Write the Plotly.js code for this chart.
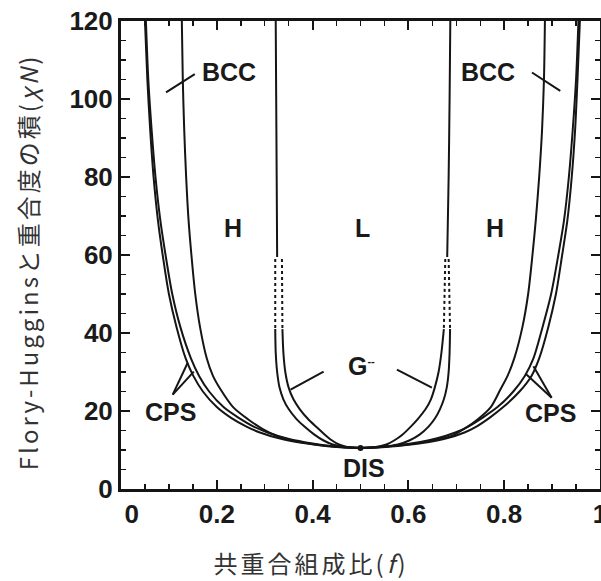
<!DOCTYPE html>
<html>
<head>
<meta charset="utf-8">
<script src="https://cdn.plot.ly/plotly-3.0.1.min.js"></script>
<style>
html,body{margin:0;padding:0;background:#fff;overflow:hidden;}
#chart{width:601px;height:581px;}
</style>
</head>
<body>
<div id="chart"></div>
<script>
// ---- data (f = composition, chiN) ----
// order-disorder line (DIS / CPS), left and right branches
const odtChiN   = [120, 105, 92, 80, 69, 60, 50, 41.5, 33.5, 29, 25, 21, 18.3, 16, 14.5, 13, 12, 11.3, 10.8, 10.5];
const odtLeftF  = [0.050, 0.055, 0.061, 0.068, 0.077, 0.087, 0.100, 0.116, 0.135, 0.151, 0.171, 0.200, 0.229, 0.262, 0.290, 0.330, 0.370, 0.410, 0.450, 0.500];
const odtRightF = [0.958, 0.953, 0.948, 0.941, 0.932, 0.921, 0.908, 0.892, 0.873, 0.857, 0.832, 0.798, 0.770, 0.742, 0.717, 0.680, 0.640, 0.595, 0.553, 0.500];
// CPS / BCC line
const cpsLeftF  = [0.052, 0.057, 0.064, 0.072, 0.082, 0.093, 0.107, 0.124, 0.146, 0.163, 0.184, 0.214, 0.245, 0.277, 0.306, 0.345, 0.383, 0.420, 0.456, 0.500];
const cpsRightF = [0.955, 0.950, 0.943, 0.935, 0.925, 0.913, 0.898, 0.880, 0.861, 0.843, 0.819, 0.786, 0.755, 0.725, 0.698, 0.660, 0.622, 0.582, 0.545, 0.500];
// BCC / H line
const bhChiN    = [120, 105, 92, 80, 69, 60, 50, 41.5, 33.5, 29, 25.5, 21, 17.9, 15.3, 13.6, 12.3, 11.5, 11.0, 10.7, 10.5];
const bhLeftF   = [0.127, 0.129, 0.132, 0.136, 0.141, 0.147, 0.155, 0.165, 0.179, 0.192, 0.208, 0.234, 0.265, 0.297, 0.326, 0.364, 0.402, 0.436, 0.466, 0.500];
const bhRightF  = [0.885, 0.883, 0.879, 0.873, 0.866, 0.859, 0.850, 0.838, 0.821, 0.807, 0.792, 0.772, 0.745, 0.715, 0.690, 0.645, 0.603, 0.567, 0.535, 0.500];
// H / L line (upper, solid)
const hlChiN    = [120, 100, 80, 59.5];
const hlLeftF   = [0.323, 0.324, 0.325, 0.326];
const hlRightF  = [0.6875, 0.686, 0.684, 0.681];
// gyroid window, dotted extrapolation
const gDotChiN  = [59, 41];
const gDotLeftOuterF  = [0.322, 0.322];
const gDotLeftInnerF  = [0.336, 0.337];
const gDotRightOuterF = [0.684, 0.687];
const gDotRightInnerF = [0.677, 0.674];
// gyroid window, solid part
const gChiN        = [41, 35, 30, 26, 23, 20.5, 18, 16, 14, 12.5, 11.4, 10.8, 10.5];
const gLeftOuterF  = [0.322, 0.323, 0.326, 0.331, 0.339, 0.350, 0.366, 0.383, 0.403, 0.422, 0.442, 0.466, 0.500];
const gLeftInnerF  = [0.337, 0.339, 0.343, 0.350, 0.360, 0.373, 0.390, 0.407, 0.425, 0.440, 0.455, 0.472, 0.500];
const gRightOuterF = [0.687, 0.686, 0.684, 0.680, 0.674, 0.666, 0.655, 0.642, 0.624, 0.603, 0.578, 0.545, 0.500];
const gRightInnerF = [0.674, 0.669, 0.663, 0.655, 0.647, 0.636, 0.620, 0.605, 0.588, 0.571, 0.554, 0.532, 0.500];
// critical point
const critF = [0.5], critChiN = [10.5];
// label pointers [f0, chiN0, f1, chiN1]
const pointers = [
  [0.094, 101.7, 0.154, 106.4],
  [0.858, 106.8, 0.917, 102.1],
  [0.354, 25.5, 0.423, 30.1],
  [0.576, 30.6, 0.649, 26.0],
  [0.108, 24.2, 0.139, 32.3],
  [0.108, 24.2, 0.152, 30.1],
  [0.899, 23.4, 0.861, 31.5],
  [0.899, 23.4, 0.846, 29.4]
];
// region labels
const labelText = ['BCC', 'BCC', 'H', 'L', 'H', 'CPS', 'CPS', 'DIS'];
const labelF    = [0.225, 0.767, 0.233, 0.504, 0.781, 0.104, 0.896, 0.507];
const labelChiN = [106.8, 106.8, 67.0, 66.8, 66.8, 19.8, 19.6, 5.5];
const gLabel = {text: 'G<sup><span style="font-size:11px">--</span></sup>', f: 0.470, chiN: 31.5};
// ticks
const xTickVals = [0, 0.2, 0.4, 0.6, 0.8, 1];
const xTickText = ['\u00a0\u00a0\u00a00', '0.2', '0.4', '0.6', '0.8', '1'];
const yTickVals = [0, 20, 40, 60, 80, 100, 120];
const yTickText = ['0', '20', '40', '60', '80', '100', '120'];
const xTitle = '共重合組成比(<i>f</i>)';
const yTitle = 'Flory-Hugginsと重合度の積(<i>χN</i>)';

// ---- build ----
const ink = '#151515';
function curve(x, y, dash) {
  return {x: x, y: y, mode: 'lines', type: 'scatter', hoverinfo: 'skip', showlegend: false,
          line: {color: ink, width: 2, shape: dash ? 'linear' : 'spline', smoothing: 0.8, dash: dash || 'solid'}};
}
const traces = [
  curve(odtLeftF, odtChiN), curve(odtRightF, odtChiN),
  curve(cpsLeftF, odtChiN), curve(cpsRightF, odtChiN),
  curve(bhLeftF, bhChiN), curve(bhRightF, bhChiN),
  curve(hlLeftF, hlChiN), curve(hlRightF, hlChiN),
  curve(gDotLeftOuterF, gDotChiN, 'dot'), curve(gDotLeftInnerF, gDotChiN, 'dot'),
  curve(gDotRightOuterF, gDotChiN, 'dot'), curve(gDotRightInnerF, gDotChiN, 'dot'),
  curve(gLeftOuterF, gChiN), curve(gLeftInnerF, gChiN),
  curve(gRightOuterF, gChiN), curve(gRightInnerF, gChiN)
];
pointers.forEach(p => {
  traces.push({x: [p[0], p[2]], y: [p[1], p[3]], mode: 'lines', type: 'scatter', hoverinfo: 'skip',
               showlegend: false, line: {color: ink, width: 2}});
});
traces.push({x: critF, y: critChiN, mode: 'markers', type: 'scatter', hoverinfo: 'skip', showlegend: false,
             marker: {color: ink, size: 6}});

const labFont = {family: 'Liberation Sans, Arial, sans-serif', size: 25, weight: 'bold', color: '#1a1a1a'};
const annotations = labelText.map((t, i) => ({
  x: labelF[i], y: labelChiN[i], xref: 'x', yref: 'y', text: t, showarrow: false, font: labFont
}));
annotations.push({x: gLabel.f, y: gLabel.chiN, xref: 'x', yref: 'y', text: gLabel.text, showarrow: false,
                  xanchor: 'left', font: labFont});
const titleFont = {family: 'Noto Sans CJK JP, sans-serif', size: 24, color: '#333'};
annotations.push({x: 0.397, y: -0.156, xref: 'paper', yref: 'paper', text: xTitle, showarrow: false,
                  xanchor: 'center', yanchor: 'middle', font: titleFont});
annotations.push({x: -0.196, y: 0.486, xref: 'paper', yref: 'paper', text: yTitle, showarrow: false,
                  textangle: -90, xanchor: 'center', yanchor: 'middle', font: titleFont});

const tickFont = {family: 'Liberation Sans, Arial, sans-serif', size: 26, weight: 'bold', color: '#1a1a1a'};
const axisCommon = {
  ticks: 'inside', ticklen: 9, tickwidth: 2, tickcolor: ink,
  showline: true, linewidth: 3, linecolor: ink, mirror: 'ticks',
  showgrid: false, zeroline: false, tickfont: tickFont, fixedrange: true,
  ticklabeloverflow: 'allow'
};
const layout = {
  width: 601, height: 581,
  margin: {l: 121, r: 1, t: 21, b: 92},
  paper_bgcolor: '#fff', plot_bgcolor: '#fff',
  xaxis: Object.assign({}, axisCommon, {
    range: [0, 1], tickmode: 'array', tickvals: xTickVals, ticktext: xTickText,
    minor: {ticks: 'inside', ticklen: 5, tickwidth: 1.5, tickcolor: ink, tickmode: 'linear', tick0: 0, dtick: 0.05, showgrid: false}
  }),
  yaxis: Object.assign({}, axisCommon, {
    range: [0, 120], tickmode: 'array', tickvals: yTickVals, ticktext: yTickText,
    minor: {ticks: 'inside', ticklen: 5, tickwidth: 1.5, tickcolor: ink, tickmode: 'linear', tick0: 0, dtick: 5, showgrid: false}
  }),
  annotations: annotations,
  showlegend: false
};
Plotly.newPlot('chart', traces, layout, {displayModeBar: false, staticPlot: true}).then(gd => {
  gd.querySelectorAll('.annotation-text').forEach(t => {
    if (/共|Flory/.test(t.textContent)) t.style.letterSpacing = '3px';
  });
});
</script>
</body>
</html>
